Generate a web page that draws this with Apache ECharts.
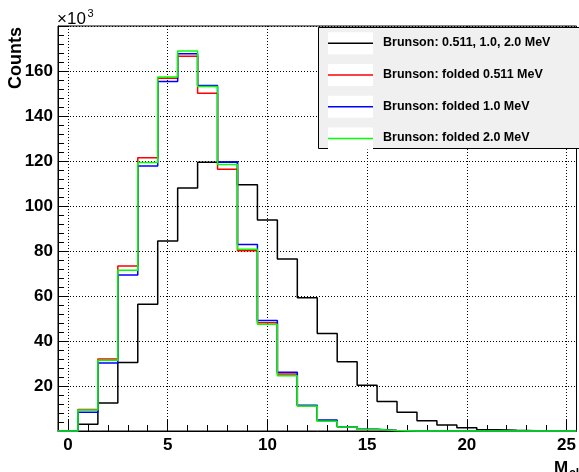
<!DOCTYPE html>
<html><head><meta charset="utf-8">
<script src="https://cdn.jsdelivr.net/npm/echarts@6/dist/echarts.min.js"></script>
<style>html,body{margin:0;padding:0;background:#fff}#c{width:579px;height:472px}</style>
</head><body><div id="c"></div>
<script>
// bin centres (M_cl)
const binCenters = [0,1,2,3,4,5,6,7,8,9,10,11,12,13,14,15,16,17,18,19,20,21,22,23,24,25];
const seriesNames = ['Brunson: 0.511, 1.0, 2.0 MeV','Brunson: folded 0.511 MeV','Brunson: folded 1.0 MeV','Brunson: folded 2.0 MeV'];
const seriesColors = ['#000000','#ff0000','#0000ff','#00ff00'];
// counts in units of 10^3
const allEnergies = [0,3.0,12.4,30.4,56.3,84.5,108.0,119.4,119.6,109.4,93.8,76.4,59.2,43.3,30.8,20.3,13.1,8.3,4.6,2.7,1.5,0.6,0.3,0.1,0.05,0];
const folded0511 = [0,9.6,32.0,73.3,121.4,156.8,166.6,150.1,116.3,80.1,48.1,25.3,11.2,4.3,1.8,0.7,0.2,0.05,0,0,0,0,0,0,0,0];
const folded10   = [0,8.3,30.2,69.3,117.8,155.3,167.7,153.6,119.6,82.9,49.1,26.1,11.5,4.9,1.9,0.75,0.2,0.05,0,0,0,0,0,0,0,0];
const folded20   = [0,9.3,31.4,71.5,119.3,157.3,168.9,153.1,118.4,80.8,47.4,24.6,11.1,4.3,1.8,0.7,0.2,0.05,0,0,0,0,0,0,0,0];
const xMajorTicks = [0,5,10,15,20,25];
const xMinorTicks = [1,2,3,4,6,7,8,9,11,12,13,14,16,17,18,19,21,22,23,24];
const yMin = 0, yMax = 180, yInterval = 20;
const xMin = -0.5, xMax = 25.5;

function toSteps(vals){
  const pts = binCenters.map((c,i)=>[c-0.5, vals[i]]);
  pts.push([binCenters[binCenters.length-1]+0.5, vals[vals.length-1]]);
  return pts;
}
const FONT = '"Liberation Sans", Arial, Helvetica, sans-serif';
const chart = echarts.init(document.getElementById('c'), null, {renderer:'canvas'});
const allVals = [allEnergies, folded0511, folded10, folded20];

const legendY0 = 43.3, legendStep = 31.7;
const graphics = [
  {type:'rect', z:3, shape:{x:318.5,y:27.5,width:270,height:121}, style:{fill:'#f0f0f0',stroke:'#000',lineWidth:1}},
];
seriesNames.forEach((n,i)=>{
  const cy = legendY0 + legendStep*i;
  graphics.push({type:'rect', z:3, shape:{x:328,y:cy-11,width:45,height:22}, style:{fill:'#fff'}});
  graphics.push({type:'line', z:4, shape:{x1:328,y1:cy,x2:373,y2:cy}, style:{stroke:seriesColors[i], lineWidth:1.5}});
  graphics.push({type:'text', z:4, x:383, y:cy-0.5, style:{text:n, font:'bold 12.5px '+FONT, fill:'#000', verticalAlign:'middle', align:'left'}});
});
graphics.push(
  {type:'text', z:5, x:57, y:19.5, style:{text:'×10', font:'17px '+FONT, fill:'#000', verticalAlign:'middle', align:'left'}},
  {type:'text', z:5, x:87.5, y:14, style:{text:'3', font:'11px '+FONT, fill:'#000', verticalAlign:'middle', align:'left'}},
  {type:'text', z:5, x:16.5, y:27, rotation:Math.PI/2, style:{text:'Counts', font:'bold 18px '+FONT, fill:'#000', verticalAlign:'middle', align:'right'}},
  {type:'text', z:5, x:554, y:468.5, style:{text:'M', font:'bold 17px '+FONT, fill:'#000', verticalAlign:'middle', align:'left'}},
  {type:'text', z:5, x:569, y:474, style:{text:'cl', font:'bold 12px '+FONT, fill:'#000', verticalAlign:'middle', align:'left'}}
);

const option = {
  animation:false,
  backgroundColor:'#fff',
  grid:{left:58, right:2, top:26, bottom:41, show:true, borderColor:'#000', borderWidth:1, containLabel:false},
  xAxis:[
    {type:'value', min:xMin, max:xMax, position:'bottom',
     axisLine:{show:true, onZero:false, lineStyle:{color:'#000', width:1}},
     axisTick:{show:true, inside:true, length:11, customValues:xMajorTicks, lineStyle:{color:'#000', width:1}},
     axisLabel:{show:true, customValues:xMajorTicks, margin:6, fontFamily:FONT, fontWeight:'bold', fontSize:17, color:'#000'},
     splitLine:{show:true, lineStyle:{color:'#000', type:[1,2], width:1}}},
    {type:'value', min:xMin, max:xMax, position:'bottom',
     axisLine:{show:false},
     axisTick:{show:true, inside:true, length:6, customValues:xMinorTicks, lineStyle:{color:'#000', width:1}},
     axisLabel:{show:false},
     splitLine:{show:false}}
  ],
  yAxis:{type:'value', min:yMin, max:yMax, interval:yInterval,
    axisLine:{show:true, onZero:false, lineStyle:{color:'#000', width:1}},
    axisTick:{show:true, inside:true, length:11, lineStyle:{color:'#000', width:1}},
    minorTick:{show:true, splitNumber:5, length:6, lineStyle:{color:'#000', width:1}},
    axisLabel:{margin:5, fontFamily:FONT, fontWeight:'bold', fontSize:17, color:'#000',
      formatter:v=> (v===yMin||v===yMax)?'':String(v)},
    splitLine:{show:true, lineStyle:{color:'#000', type:[1,2], width:1}}
  },
  series: seriesNames.map((n,i)=>({
    name:n, type:'line', step:'end', xAxisIndex:0, showSymbol:false, symbol:'none', clip:false,
    color:seriesColors[i], lineStyle:{color:seriesColors[i], width:1.5}, z:2+i*0.1,
    data:toSteps(allVals[i])
  })),
  graphic:graphics
};
chart.setOption(option);
</script></body></html>
